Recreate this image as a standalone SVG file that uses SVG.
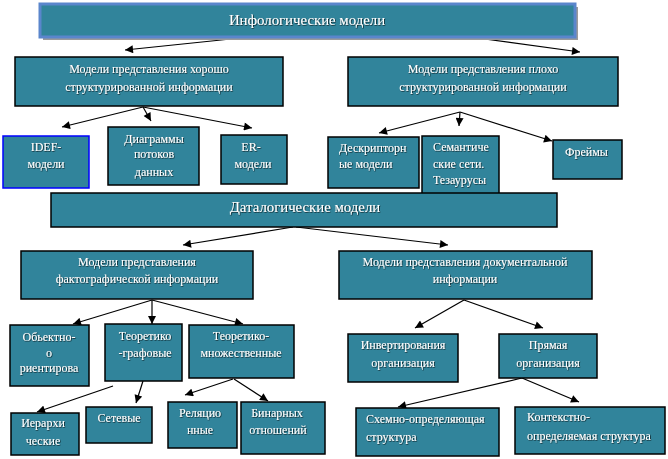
<svg xmlns="http://www.w3.org/2000/svg" width="668" height="459" viewBox="0 0 668 459">
<style>
.b{fill:#31849b;stroke:#000;stroke-width:1.5}
.t{font-family:"Liberation Serif","Times New Roman",serif;font-size:12px;fill:#fff;filter:url(#sh)}
.c{text-anchor:middle}
.big{font-size:14.8px}
.ln{stroke:#000;stroke-width:1.2;fill:none;marker-end:url(#ah)}
</style>
<defs>
<marker id="ah" viewBox="0 0 10 10" refX="10" refY="5" markerWidth="9" markerHeight="8" markerUnits="userSpaceOnUse" orient="auto">
<path d="M0,0L10,5L0,10z" fill="#000"/>
</marker>
<filter id="sh" x="-10%" y="-20%" width="120%" height="140%">
<feDropShadow dx="0.6" dy="0.6" stdDeviation="0.3" flood-color="#000" flood-opacity="0.9"/>
</filter>
</defs>
<rect width="668" height="459" fill="#fff"/>
<g id="connectors">
<path class="ln" d="M250,37L125,50"/>
<path class="ln" d="M470,37L580,52"/>
<path class="ln" d="M143,107L62,127"/>
<path class="ln" d="M143,107L151,121"/>
<path class="ln" d="M143,107L252,128"/>
<path class="ln" d="M460,112L379,133"/>
<path class="ln" d="M460,112L459,126"/>
<path class="ln" d="M460,112L552,141"/>
<path class="ln" d="M293,227L183,245"/>
<path class="ln" d="M296,227L448,245"/>
<path class="ln" d="M152,300L73,324"/>
<path class="ln" d="M152,300L152,324"/>
<path class="ln" d="M152,300L243,324"/>
<path class="ln" d="M464,300L415,328"/>
<path class="ln" d="M464,300L543,328"/>
<path class="ln" d="M113,386L37,412"/>
<path class="ln" d="M143,381L136,403"/>
<path class="ln" d="M233,379L185,395"/>
<path class="ln" d="M234,379L268,401"/>
<path class="ln" d="M522,378L398,407"/>
<path class="ln" d="M522,378L579,402"/>
</g>
<g id="n-info">
<rect x="43" y="7" width="535" height="33" fill="#9a9a9a"/>
<rect x="40" y="4" width="535" height="33" fill="#31849b" stroke="#5a86cc" stroke-width="3"/>
<text class="t c big" x="307" y="25">Инфологические модели</text>
</g>
<g id="n-good">
<rect class="b" x="15" y="57" width="268" height="49"/>
<text class="t c" x="149" y="73">Модели представления хорошо</text>
<text class="t c" x="149" y="91">структурированной информации</text>
</g>
<g id="n-bad">
<rect class="b" x="348" y="57" width="270" height="49"/>
<text class="t c" x="483" y="73">Модели представления плохо</text>
<text class="t c" x="483" y="91">структурированной информации</text>
</g>
<g id="n-idef">
<rect x="3" y="136" width="86" height="52" fill="#31849b" stroke="#0000ff" stroke-width="1.5"/>
<text class="t c" x="46" y="151">IDEF-</text>
<text class="t c" x="46" y="168">модели</text>
</g>
<g id="n-dfd">
<rect class="b" x="108" y="127" width="91" height="58"/>
<text class="t c" x="154" y="143">Диаграммы</text>
<text class="t c" x="154" y="158">потоков</text>
<text class="t c" x="154" y="176">данных</text>
</g>
<g id="n-er">
<rect class="b" x="221" y="135" width="66" height="49"/>
<text class="t c" x="251" y="151">ER-</text>
<text class="t c" x="253" y="168">модели</text>
</g>
<g id="n-desc">
<rect class="b" x="328" y="137" width="91" height="51"/>
<text class="t" x="339" y="152">Дескрипторн</text>
<text class="t" x="339" y="168">ые модели</text>
</g>
<g id="n-sem">
<rect class="b" x="422" y="136" width="77" height="58"/>
<text class="t" x="433" y="151">Семантиче</text>
<text class="t" x="433" y="168">ские сети.</text>
<text class="t" x="433" y="184">Тезаурусы</text>
</g>
<g id="n-frames">
<rect class="b" x="553" y="140" width="69" height="39"/>
<text class="t" x="565" y="156">Фреймы</text>
</g>
<g id="n-data">
<rect class="b" x="51" y="193" width="506" height="34"/>
<text class="t c big" x="305" y="212">Даталогические модели</text>
</g>
<g id="n-fact">
<rect class="b" x="21" y="251" width="232" height="48"/>
<text class="t c" x="137" y="266">Модели представления</text>
<text class="t c" x="137" y="283">фактографической  информации</text>
</g>
<g id="n-doc">
<rect class="b" x="339" y="251" width="253" height="48"/>
<text class="t c" x="465" y="266">Модели представления документальной</text>
<text class="t c" x="465" y="283">информации</text>
</g>
<g id="n-oo">
<rect class="b" x="10" y="325" width="79" height="61"/>
<text class="t c" x="49" y="341">Обьектно-</text>
<text class="t c" x="49" y="357">о</text>
<text class="t c" x="49" y="372">риентирова</text>
</g>
<g id="n-graph">
<rect class="b" x="105" y="324" width="77" height="57"/>
<text class="t c" x="145" y="340">Теоретико</text>
<text class="t c" x="145" y="357">-графовые</text>
</g>
<g id="n-set">
<rect class="b" x="189" y="325" width="105" height="53"/>
<text class="t c" x="241" y="340">Теоретико-</text>
<text class="t c" x="241" y="357">множественные</text>
</g>
<g id="n-inv">
<rect class="b" x="348" y="334" width="110" height="48"/>
<text class="t c" x="403" y="349">Инвертирования</text>
<text class="t c" x="403" y="367">организация</text>
</g>
<g id="n-direct">
<rect class="b" x="499" y="334" width="98" height="44"/>
<text class="t c" x="548" y="349">Прямая</text>
<text class="t c" x="548" y="367">организация</text>
</g>
<g id="n-hier">
<rect class="b" x="11" y="413" width="68" height="42"/>
<text class="t c" x="43" y="427">Иерархи</text>
<text class="t c" x="43" y="445">ческие</text>
</g>
<g id="n-net">
<rect class="b" x="86" y="407" width="66" height="36"/>
<text class="t c" x="119" y="422">Сетевые</text>
</g>
<g id="n-rel">
<rect class="b" x="168" y="402" width="69" height="46"/>
<text class="t c" x="200" y="417">Реляцио</text>
<text class="t c" x="200" y="434">нные</text>
</g>
<g id="n-bin">
<rect class="b" x="241" y="402" width="84" height="52"/>
<text class="t c" x="277" y="417">Бинарных</text>
<text class="t c" x="278" y="434">отношений</text>
</g>
<g id="n-schema">
<rect class="b" x="356" y="408" width="143" height="48"/>
<text class="t" x="366" y="423">Схемно-определяющая</text>
<text class="t" x="366" y="441">структура</text>
</g>
<g id="n-context">
<rect class="b" x="515" y="407" width="150" height="47"/>
<text class="t" x="527" y="421">Контекстно-</text>
<text class="t" x="527" y="440">определяемая структура</text>
</g>
</svg>
